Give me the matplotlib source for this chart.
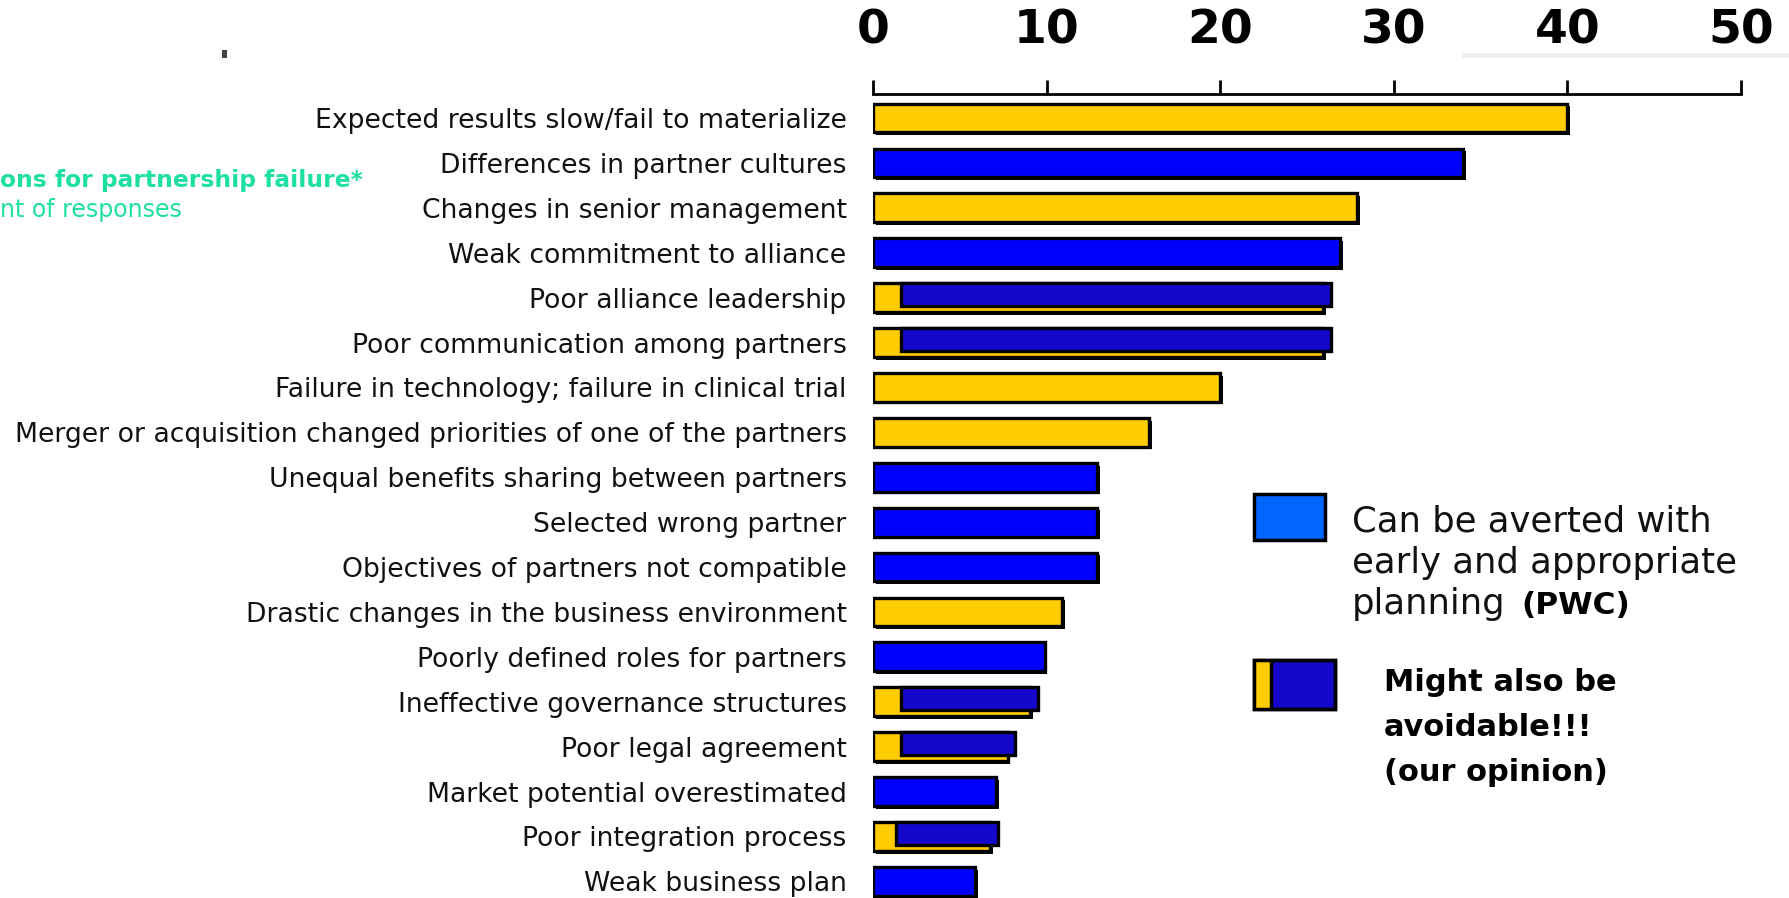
import matplotlib
matplotlib.use('Agg')
import matplotlib.pyplot as plt
from matplotlib.patches import Rectangle
from matplotlib.lines import Line2D

categories = [
    "Expected results slow/fail to materialize",
    "Differences in partner cultures",
    "Changes in senior management",
    "Weak commitment to alliance",
    "Poor alliance leadership",
    "Poor communication among partners",
    "Failure in technology; failure in clinical trial",
    "Merger or acquisition changed priorities of one of the partners",
    "Unequal benefits sharing between partners",
    "Selected wrong partner",
    "Objectives of partners not compatible",
    "Drastic changes in the business environment",
    "Poorly defined roles for partners",
    "Ineffective governance structures",
    "Poor legal agreement",
    "Market potential overestimated",
    "Poor integration process",
    "Weak business plan",
]
values = [40, 34, 27.9, 26.9, 26.4, 26.4, 20, 15.9, 12.9, 12.9, 12.9, 10.9, 9.9, 9.5, 8.2, 7.1, 7.2, 5.9]
# Y = unavoidable (yellow), B = averted by planning (blue), M = might also be avoidable (mixed)
kinds = ['Y', 'B', 'Y', 'B', 'M', 'M', 'Y', 'Y', 'B', 'B', 'B', 'Y', 'B', 'M', 'M', 'B', 'M', 'B']
yellow_part = [0, 0, 0, 0, 1.6, 1.6, 0, 0, 0, 0, 0, 0, 0, 1.6, 1.6, 0, 1.3, 0]
ticks = [0, 10, 20, 30, 40, 50]

YELLOW = '#FFCC00'
BLUE = '#0000FF'
MIXBLUE = '#1408CC'
LEGBLUE = '#0066FF'
TEAL = '#1EDFA2'

W, H = 1790, 898
fig = plt.figure(figsize=(W / 100, H / 100), dpi=100)
fig.patch.set_facecolor('white')

def fx(px):
    return px / W

def fy(py):
    return 1 - py / H

ax = fig.add_axes([fx(873), 0, fx(1741) - fx(873), fy(94)])
ax.set_xlim(0, 50)
ax.set_ylim(17.37, -0.534)

bh = 0.64
for i, (v, k, yp) in enumerate(zip(values, kinds, yellow_part)):
    if k == 'M':
        ylen = v - 0.45
        ax.barh(i + 0.06, ylen, left=0.15, height=bh, color='black', zorder=1)
        ax.barh(i, ylen, height=bh, color=YELLOW, edgecolor='black', linewidth=2.4, zorder=2)
        ax.barh(i - 0.07, v - yp, left=yp, height=bh * 0.82, color=MIXBLUE,
                edgecolor='black', linewidth=2.4, zorder=3)
    else:
        col = YELLOW if k == 'Y' else BLUE
        ax.barh(i + 0.06, v, left=0.15, height=bh, color='black', zorder=1)
        ax.barh(i, v, height=bh, color=col, edgecolor='black', linewidth=2.4, zorder=2)

ax.xaxis.tick_top()
ax.set_xticks(ticks)
ax.set_xticklabels([str(t) for t in ticks], fontsize=34, fontweight='bold',
                   family='DejaVu Sans')
ax.tick_params(axis='x', direction='out', length=10, width=2, pad=19, colors='black')
ax.set_yticks(range(len(categories)))
ax.set_yticklabels(categories, fontsize=19.2, family='DejaVu Sans', color='#111111')
ax.tick_params(axis='y', length=0, pad=19)
for s in ['bottom', 'left', 'right']:
    ax.spines[s].set_visible(False)
ax.spines['top'].set_linewidth(2)
ax.set_facecolor('none')

# title fragments visible at the left edge of the reference
fig.text(fx(0), fy(180), "ons for partnership failure*", ha='left', va='center',
         fontsize=16.8, fontweight='bold', color=TEAL, family='DejaVu Sans')
fig.text(fx(0), fy(210), "nt of responses", ha='left', va='center',
         fontsize=17, color=TEAL, family='DejaVu Sans')

# small mark and faint line
fig.add_artist(Rectangle((fx(222), fy(58)), fx(5), 8 / H, transform=fig.transFigure,
                         facecolor='#444444', edgecolor='none'))
fig.add_artist(Rectangle((fx(1462), fy(58)), fx(328), 5 / H, transform=fig.transFigure,
                         facecolor='#F0F0F0', edgecolor='none'))

# legend
fig.add_artist(Rectangle((fx(1254), fy(540)), fx(71), 46 / H, transform=fig.transFigure,
                         facecolor=LEGBLUE, edgecolor='black', linewidth=2.5))
fs = 25.5
fig.text(fx(1352), fy(532), "Can be averted with", ha='left', va='baseline',
         fontsize=fs, color='#111111', family='DejaVu Sans')
fig.text(fx(1352), fy(573), "early and appropriate", ha='left', va='baseline',
         fontsize=fs, color='#111111', family='DejaVu Sans')
fig.text(fx(1352), fy(614), "planning", ha='left', va='baseline',
         fontsize=fs, color='#111111', family='DejaVu Sans')
fig.text(fx(1521), fy(614), "(PWC)", ha='left', va='baseline',
         fontsize=22.5, fontweight='bold', color='black', family='DejaVu Sans')

fig.add_artist(Rectangle((fx(1254), fy(709)), fx(81), 49 / H, transform=fig.transFigure,
                         facecolor=MIXBLUE, edgecolor='black', linewidth=2.5, zorder=2))
fig.add_artist(Rectangle((fx(1255), fy(708)), fx(16), 47 / H, transform=fig.transFigure,
                         facecolor=YELLOW, edgecolor='none', zorder=3))
fig.add_artist(Line2D([fx(1271), fx(1271)], [fy(708), fy(661)], transform=fig.transFigure,
                      color='black', linewidth=2.5, zorder=4))
fig.add_artist(Rectangle((fx(1254), fy(709)), fx(81), 49 / H, transform=fig.transFigure,
                         facecolor='none', edgecolor='black', linewidth=2.5, zorder=5))
for txt, yb in [("Might also be", 691), ("avoidable!!!", 736), ("(our opinion)", 781)]:
    fig.text(fx(1384), fy(yb), txt, ha='left', va='baseline', fontsize=22,
             fontweight='bold', color='black', family='DejaVu Sans')

fig.savefig('out.png', dpi=100, facecolor='white')
